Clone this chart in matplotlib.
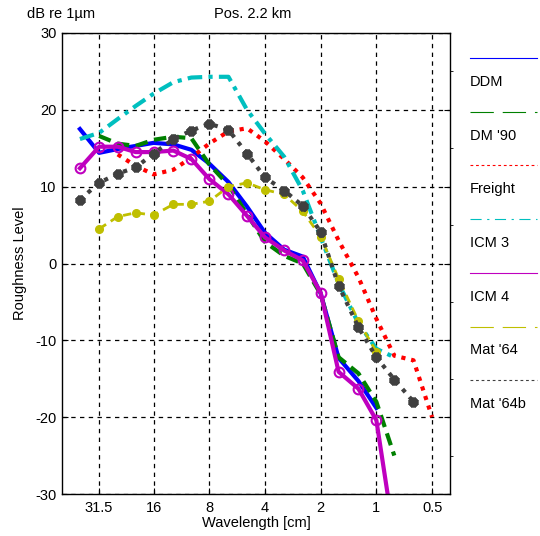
import numpy as np
import matplotlib
matplotlib.use('Agg')
import matplotlib.pyplot as plt
from matplotlib.lines import Line2D
from matplotlib.ticker import FixedLocator

nan = np.nan

# 1/3-octave band wavelengths [cm]
wavelength = [40, 31.5, 25, 20, 16, 12.5, 10, 8, 6.3, 5, 4, 3.15, 2.5, 2, 1.6, 1.25, 1, 0.8, 0.63, 0.5]

ddm      = [17.5, 14.4, 14.9, 15.3, 15.7, 15.5, 14.8, 13.0, 10.6, 7.4, 4.0, 1.8, 0.9, -3.9, -12.3, -15.3, -18.8, nan, nan, nan]
dm90     = [nan, 16.6, 15.6, 15.3, 16.1, 16.5, 16.3, 12.9, 10.2, 6.4, 2.8, 1.0, 0.0, -4.0, -12.2, -14.3, -18.0, -25.0, nan, nan]
freight  = [nan, nan, 14.2, 12.7, 11.6, 12.2, 13.8, 15.6, 17.2, 17.6, 15.9, 13.6, 11.2, 7.8, 3.0, -1.8, -7.2, -12.0, -12.6, -20.0]
icm3     = [16.2, 17.0, 18.8, 20.5, 22.1, 23.6, 24.2, 24.3, 24.3, 20.0, 16.9, 13.9, 9.5, 3.4, -2.6, -7.8, -11.1, -12.2, nan, nan]
icm4     = [12.4, 15.2, 15.2, 14.5, 14.5, 14.7, 13.6, 11.0, 9.0, 6.2, 3.4, 1.7, 0.4, -3.8, -14.1, -16.3, -20.4, -35.7, nan, nan]
mat64    = [nan, 4.5, 6.1, 6.6, 6.3, 7.7, 7.7, 8.1, 10.0, 10.5, 9.6, 9.0, 6.8, 3.5, -2.0, -7.5, -11.5, nan, nan, nan]
mat64b   = [8.3, 10.5, 11.7, 12.5, 14.3, 16.2, 17.3, 18.2, 17.4, 14.3, 11.2, 9.5, 7.5, 4.1, -2.9, -8.3, -12.2, -15.1, -18.0, nan]

series_names = ["DDM", "DM '90", "Freight", "ICM 3", "ICM 4", "Mat '64", "Mat '64b"]
series_values = [ddm, dm90, freight, icm3, icm4, mat64, mat64b]

xticks = [31.5, 16, 8, 4, 2, 1, 0.5]
xtick_labels = ['31.5', '16', '8', '4', '2', '1', '0.5']
yticks = [-30, -20, -10, 0, 10, 20, 30]
yticks_minor = [-25, -15, -5, 5, 15, 25]

colors = ['#0000ff', '#008000', '#ff0000', '#00bfbf', '#bf00bf', '#bfbf00', '#404040']
plot_styles = [
    dict(ls='-', lw=3),
    dict(ls=(0, (3, 1.6)), lw=3),
    dict(ls=(0, (1, 1.4)), lw=3),
    dict(ls=(0, (3.5, 1.5, 1, 1.5)), lw=3),
    dict(ls='-', lw=3, marker='o', mfc='none', ms=7, mew=1.5),
    dict(ls=(0, (3, 2)), lw=2, marker='o', ms=5.5),
    dict(ls=(0, (1, 1.5)), lw=3, marker=(8, 2, 0), ms=7, mew=3),
]
legend_ls = ['-', (0, (21, 8)), (0, (2.5, 2.5)), (0, (10, 5, 2, 5)), '-', (0, (21, 8)), (0, (2.5, 2.5))]

plt.rcParams['font.family'] = ['Liberation Sans', 'DejaVu Sans']
plt.rcParams['axes.unicode_minus'] = False
plt.rcParams['font.size'] = 10

W, H = 540, 536
fig = plt.figure(figsize=(W / 100, H / 100), dpi=100)
ax = fig.add_axes([62 / W, 1 - 494 / H, 388 / W, 461 / H])

for name, vals, col, st in zip(series_names, series_values, colors, plot_styles):
    ax.plot(wavelength, vals, color=col, label=name, **st)

ax.set_xscale('log')
ax.set_xlim(50, 0.4)
ax.set_ylim(-30, 30)
ax.xaxis.set_major_locator(FixedLocator(xticks))
ax.set_xticklabels(xtick_labels)
ax.xaxis.set_minor_locator(FixedLocator([]))
ax.set_yticks(yticks)
ax.yaxis.set_minor_locator(FixedLocator(yticks_minor))
ax.grid(True, which='major', color='k', ls=(0, (3.5, 3.5)), lw=0.9)
ax.tick_params(axis='x', which='major', direction='in', length=4, pad=5, labelsize=10.5)
ax.tick_params(axis='y', which='major', direction='in', length=4, left=True, right=True, pad=4, labelsize=10.5)
ax.tick_params(axis='y', which='minor', direction='out', length=2.2, left=False, right=True)
for s in ax.spines.values():
    s.set_linewidth(1.0)

ax.set_xlabel('Wavelength [cm]', fontsize=10.5, labelpad=1)
ax.set_ylabel('Roughness Level', fontsize=10.5, labelpad=6)

fig.text(253 / W, 1 - 14 / H, 'Pos. 2.2 km', ha='center', va='center', fontsize=10.5)
fig.text(27 / W, 1 - 14 / H, 'dB re 1\u00b5m', ha='left', va='center', fontsize=10.5)

# legend: line above label
for i, (name, col, lls) in enumerate(zip(series_names, colors, legend_ls)):
    yl = 58 + 53.7 * i
    yt = 82 + 53.7 * i
    fig.add_artist(Line2D([470 / W, 537 / W], [1 - yl / H, 1 - yl / H], color=col, lw=0.8, ls=lls,
                          transform=fig.transFigure))
    fig.text(470 / W, 1 - yt / H, name, ha='left', va='center', fontsize=10.5)

fig.savefig('out.png', dpi=100)
